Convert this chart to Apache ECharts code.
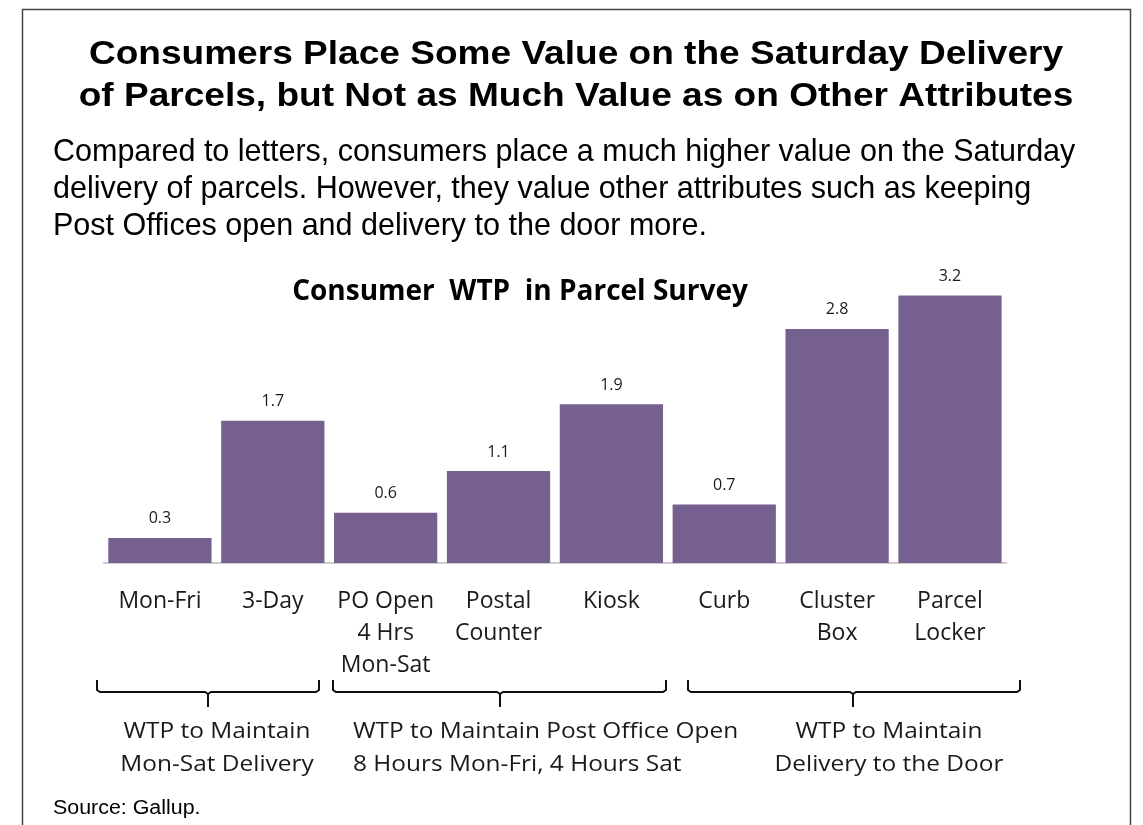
<!DOCTYPE html>
<html>
<head>
<meta charset="UTF-8">
<title>Consumer WTP in Parcel Survey</title>
<script type="text/javascript" src="https://cdn.jsdelivr.net/npm/echarts@6/dist/echarts.min.js"></script>
<style>
  html, body { margin: 0; padding: 0; background: #fff; }
</style>
</head>
<body>
<div id="main" style="width:1143px;height:825px"></div>
<script type="text/javascript">
// data
var categories = ['Mon-Fri', '3-Day', 'PO Open\n4 Hrs\nMon-Sat', 'Postal\nCounter', 'Kiosk', 'Curb', 'Cluster\nBox', 'Parcel\nLocker'];
var wtpValues = [0.3, 1.7, 0.6, 1.1, 1.9, 0.7, 2.8, 3.2];
var groupLabels = ['WTP to Maintain\nMon-Sat Delivery', 'WTP to Maintain Post Office Open\n8 Hours Mon-Fri, 4 Hours Sat', 'WTP to Maintain\nDelivery to the Door'];

var headline = 'Consumers Place Some Value on the Saturday Delivery\nof Parcels, but Not as Much Value as on Other Attributes';
var subline = 'Compared to letters, consumers place a much higher value on the Saturday\ndelivery of parcels. However, they value other attributes such as keeping\nPost Offices open and delivery to the door more.';

var chartFont = '"Open Sans", Lato, sans-serif';
var arial = '"Liberation Sans", Arial, sans-serif';

var myChart = echarts.init(document.getElementById('main'), null, { renderer: 'canvas' });

// bracket under a group of categories (x0..x1, tick at mid)
function bracket(x0, x1, mid) {
    var y = 692, yTop = 680, yTick = 707;
    return {
        type: 'polyline',
        shape: { points: [[x0, yTop], [x0, y - 2], [x0 + 3, y], [mid - 3, y], [mid, y + 2], [mid, yTick], [mid, y + 2], [mid + 3, y], [x1 - 3, y], [x1, y - 2], [x1, yTop]] },
        style: { stroke: '#111', lineWidth: 2, fill: null }
    };
}

function label(x, y, text, align, font, lh, sx) {
    return {
        type: 'text', x: x, y: y, scaleX: sx || 1, silent: true,
        style: { text: text, align: align, verticalAlign: 'top', font: font, lineHeight: lh, fill: '#1a1a1a' }
    };
}

var option = {
    backgroundColor: '#fff',
    animation: false,
    title: [
        {
            text: 'Consumer  WTP  in Parcel Survey',
            left: 520, top: 278, textAlign: 'center', padding: 0,
            textStyle: { fontFamily: chartFont, fontWeight: 'bold', fontSize: 28, color: '#000' }
        }
    ],
    grid: {
        left: 103.5, right: 136.6, top: 262, bottom: 262,
        containLabel: false, outerBoundsMode: 'none'
    },
    xAxis: {
        type: 'category',
        data: categories,
        axisTick: { show: false },
        axisLine: { lineStyle: { color: '#bfbfbf', width: 1.5 } },
        axisLabel: {
            interval: 0, margin: 22, fontFamily: chartFont, fontSize: 23, lineHeight: 32, color: '#1a1a1a'
        }
    },
    yAxis: {
        type: 'value', min: 0, max: 3.6, show: false,
        splitLine: { show: false }
    },
    series: [{
        type: 'bar',
        data: wtpValues,
        barCategoryGap: '8.5%',
        itemStyle: { color: '#76608f' },
        label: {
            show: true, position: 'top', distance: 11,
            fontFamily: chartFont, fontSize: 16, color: '#1a1a1a',
            formatter: function (p) { return p.value.toFixed(1); }
        }
    }],
    graphic: [
        {
            type: 'rect',
            shape: { x: 22.5, y: 9.5, width: 1108, height: 900 },
            style: { fill: null, stroke: '#444', lineWidth: 1.5 },
            silent: true
        },
        {
            type: 'text', x: 576, y: 34, scaleX: 1.09, silent: true,
            style: { text: headline, align: 'center', verticalAlign: 'top', font: 'bold 34px ' + arial, lineHeight: 42, fill: '#000' }
        },
        {
            type: 'text', x: 53, y: 134, silent: true,
            style: { text: subline, align: 'left', verticalAlign: 'top', font: '30.5px ' + arial, lineHeight: 37, fill: '#000' }
        },
        {
            type: 'text', x: 53, y: 798, scaleX: 1.07, silent: true,
            style: { text: 'Source: Gallup.', align: 'left', verticalAlign: 'top', font: '20px ' + arial, fill: '#000' }
        },
        bracket(97, 319, 208),
        bracket(333, 666, 500),
        bracket(688, 1020, 853),
        label(217, 715, groupLabels[0], 'center', '22px ' + chartFont, 33, 1.11),
        label(353, 715, groupLabels[1], 'left', '22px ' + chartFont, 33, 1.11),
        label(889, 715, groupLabels[2], 'center', '22px ' + chartFont, 33, 1.11)
    ]
};

myChart.setOption(option);
</script>
</body>
</html>
